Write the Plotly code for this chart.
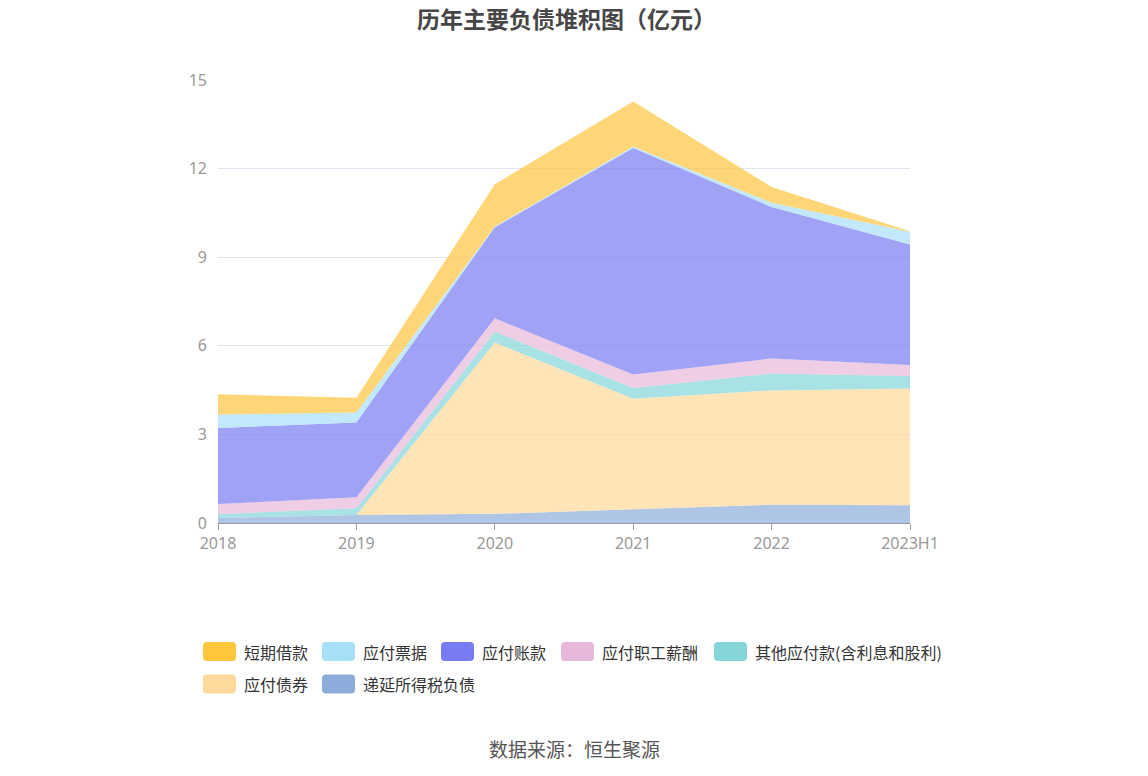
import plotly.graph_objects as go

years = ["2018", "2019", "2020", "2021", "2022", "2023H1"]

# stacked series (亿元), bottom to top
deferred_tax = [0.17, 0.27, 0.31, 0.46, 0.62, 0.60]      # 递延所得税负债
bonds_payable = [0.0, 0.0, 5.80, 3.75, 3.87, 3.95]        # 应付债券
other_payable = [0.13, 0.23, 0.37, 0.36, 0.57, 0.43]      # 其他应付款(含利息和股利)
salary_payable = [0.34, 0.37, 0.45, 0.46, 0.51, 0.37]     # 应付职工薪酬
accounts_payable = [2.58, 2.53, 3.08, 7.67, 5.13, 4.08]   # 应付账款
notes_payable = [0.45, 0.34, 0.03, 0.05, 0.14, 0.43]      # 应付票据
short_loans = [0.69, 0.50, 1.43, 1.52, 0.54, 0.02]        # 短期借款

series_names = ["递延所得税负债", "应付债券", "其他应付款(含利息和股利)", "应付职工薪酬",
                "应付账款", "应付票据", "短期借款"]
series_values = [deferred_tax, bonds_payable, other_payable, salary_payable,
                 accounts_payable, notes_payable, short_loans]
series_colors = ["#8CADDB", "#FFD99A", "#84D6D9", "#E8B8DA",
                 "#787BF2", "#A8E0FA", "#FFC53D"]

legend_order = ["短期借款", "应付票据", "应付账款", "应付职工薪酬",
                "其他应付款(含利息和股利)", "应付债券", "递延所得税负债"]

y_ticks = [0, 3, 6, 9, 12, 15]


def rgba(hex_color, a):
    h = hex_color.lstrip("#")
    r, g, b = int(h[0:2], 16), int(h[2:4], 16), int(h[4:6], 16)
    return f"rgba({r},{g},{b},{a})"


fig = go.Figure()
for name, vals, col in zip(series_names, series_values, series_colors):
    fig.add_trace(go.Scatter(
        x=years, y=vals, name=name, mode="lines", stackgroup="one",
        line=dict(width=0, color=col), fillcolor=rgba(col, 0.7),
        showlegend=False, hoverinfo="x+y+name"))

W_, H_ = 1148, 776
L, R, T, B = 218, 910, 80, 523  # plot area in screenshot pixels


def px2x(px):
    return (px - L) / (R - L)


def py2y(py):
    return (B - py) / (B - T)


# custom legend
color_of = dict(zip(series_names, series_colors))
legend_pos = [
    (203, 651.5), (322, 651.5), (441, 651.5), (561, 651.5), (714, 651.5),
    (203, 684), (322, 684),
]
bw, bh, rad = 33, 19, 4
shapes = []
annotations = []
for name, (bx, cy) in zip(legend_order, legend_pos):
    x0, x1 = px2x(bx), px2x(bx + bw)
    y0, y1 = py2y(cy + bh / 2), py2y(cy - bh / 2)
    rx = rad / (R - L)
    ry = rad / (B - T)
    path = (f"M{x0+rx},{y0} L{x1-rx},{y0} Q{x1},{y0} {x1},{y0+ry} "
            f"L{x1},{y1-ry} Q{x1},{y1} {x1-rx},{y1} L{x0+rx},{y1} "
            f"Q{x0},{y1} {x0},{y1-ry} L{x0},{y0+ry} Q{x0},{y0} {x0+rx},{y0} Z")
    shapes.append(dict(type="path", xref="paper", yref="paper", path=path,
                       fillcolor=color_of[name], line=dict(width=0), layer="above"))
    annotations.append(dict(
        x=px2x(bx + bw + 6), y=py2y(cy), xref="paper", yref="paper",
        text=name, showarrow=False, xanchor="left", yanchor="middle",
        font=dict(size=16, color="#333333",
                  family="Noto Sans CJK SC, Noto Sans, sans-serif")))

annotations.append(dict(
    x=px2x(566), y=py2y(18), xref="paper", yref="paper",
    text="<b>历年主要负债堆积图（亿元）</b>", showarrow=False,
    xanchor="center", yanchor="middle",
    font=dict(size=23, color="#464646",
              family="Noto Sans CJK SC, Noto Sans, sans-serif")))
annotations.append(dict(
    x=px2x(574), y=py2y(748), xref="paper", yref="paper",
    text="数据来源：恒生聚源", showarrow=False, xanchor="center",
    yanchor="middle",
    font=dict(size=19, color="#555555",
              family="Noto Sans CJK SC, Noto Sans, sans-serif")))

fig.update_layout(
    width=W_, height=H_,
    margin=dict(l=L, r=W_ - R, t=T, b=H_ - B, pad=0),
    paper_bgcolor="white", plot_bgcolor="white",
    xaxis=dict(type="category", range=[0, len(years) - 1], showgrid=False,
               showline=True, linecolor="#9a9a9a", linewidth=1,
               ticks="outside", ticklen=6, tickcolor="#9a9a9a",
               tickfont=dict(size=16, color="#999999",
                             family="Noto Sans, sans-serif"),
               fixedrange=True),
    yaxis=dict(range=[0, 15], tickvals=y_ticks, showgrid=True,
               gridcolor="#E0E6F1", gridwidth=1, zeroline=False, showline=False,
               ticks="", ticklabelstandoff=10,
               tickfont=dict(size=16, color="#999999",
                             family="Noto Sans, sans-serif"),
               fixedrange=True),
    shapes=shapes,
    annotations=annotations,
    showlegend=False,
)

fig.write_html(
    "out.html",
    config={"displayModeBar": False},
    post_script="document.body.style.margin='0px';document.body.style.overflow='hidden';",
)
